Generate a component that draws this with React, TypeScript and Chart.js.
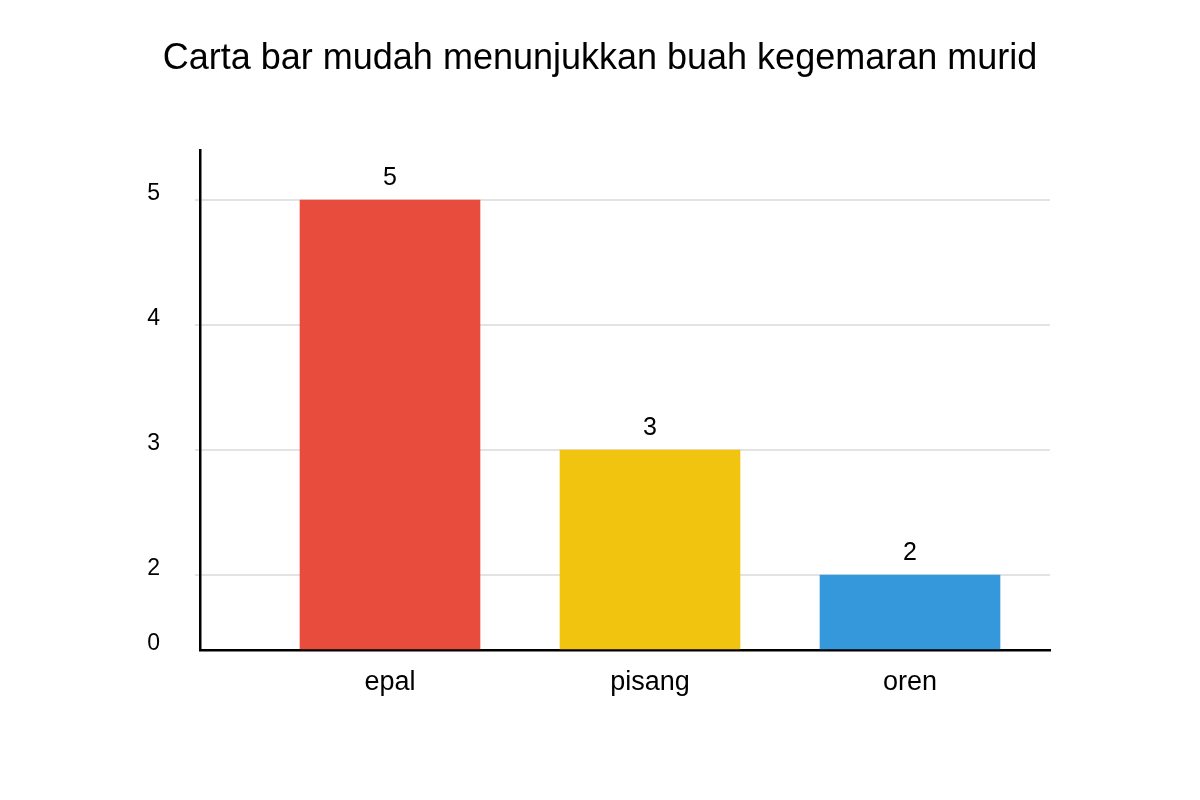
import React, { useEffect, useRef } from 'react';
import { Chart, registerables } from 'chart.js';

Chart.register(...registerables);

const categories = ['epal', 'pisang', 'oren'];
const studentCounts = [5, 3, 2];
const barColors = ['#e74c3c', '#f1c40f', '#3498db'];
const yTickValues = [2, 3, 4, 5];
const titleText = 'Carta bar mudah menunjukkan buah kegemaran murid';

// the original axis squeezes 0..2 into a short stretch, so the baseline
// sits at this value and is labelled "0"
const Y_FLOOR = 1.4;
const Y_TOP = 5.4;

const FONT = '"Liberation Sans", Arial, sans-serif';

const valueLabels = {
  id: 'valueLabels',
  afterDatasetsDraw(chart: Chart) {
    const ctx = chart.ctx;
    const meta = chart.getDatasetMeta(0);
    ctx.save();
    ctx.font = `25px ${FONT}`;
    ctx.fillStyle = '#000';
    ctx.textAlign = 'center';
    ctx.textBaseline = 'middle';
    meta.data.forEach((bar: any, i: number) => {
      ctx.fillText(String(studentCounts[i]), bar.x, bar.y - 22);
    });
    ctx.restore();
  }
};

// title centred on the whole canvas, not on the padded layout box
const pageTitle = {
  id: 'pageTitle',
  afterDraw(chart: Chart) {
    const ctx = chart.ctx;
    ctx.save();
    ctx.font = `36px ${FONT}`;
    ctx.fillStyle = '#000';
    ctx.textAlign = 'center';
    ctx.textBaseline = 'middle';
    ctx.fillText(titleText, chart.width / 2, 59);
    ctx.restore();
  }
};

const App: React.FC = () => {
  const chartRef = useRef<HTMLCanvasElement>(null);
  const chartInstance = useRef<Chart | null>(null);

  useEffect(() => {
    if (!chartRef.current) return;
    const ctx = chartRef.current.getContext('2d');
    if (!ctx) return;

    chartInstance.current = new Chart(ctx, {
      type: 'bar',
      data: {
        datasets: [{
          data: studentCounts.map((v, i) => ({ x: i, y: v })),
          backgroundColor: barColors,
          borderWidth: 0,
          barThickness: 180,
          base: Y_FLOOR
        }]
      },
      options: {
        responsive: true,
        maintainAspectRatio: false,
        animation: false,
        layout: { padding: { left: 0, right: 150, top: 150, bottom: 0 } },
        plugins: {
          legend: { display: false },
          tooltip: { enabled: false },
          title: { display: false }
        },
        scales: {
          x: {
            type: 'linear',
            offset: false,
            min: -190 / 260,
            max: 2 + 140 / 260,
            afterBuildTicks: (scale: any) => {
              scale.ticks = categories.map((_, i) => ({ value: i }));
            },
            afterFit: (scale: any) => { scale.height = 150; },
            grid: { display: false, drawTicks: false, offset: false },
            border: { display: true, color: '#000', width: 2.5 },
            ticks: {
              color: '#000',
              padding: 16,
              font: { family: FONT, size: 27 },
              callback: (value: any) => categories[value] ?? ''
            }
          },
          y: {
            type: 'linear',
            min: Y_FLOOR,
            max: Y_TOP,
            afterBuildTicks: (scale: any) => {
              scale.ticks = [Y_FLOOR, ...yTickValues].map(v => ({ value: v }));
            },
            afterFit: (scale: any) => { scale.width = 200; },
            grid: {
              color: (c: any) => (c.tick && c.tick.value === Y_FLOOR ? 'rgba(0,0,0,0)' : '#e3e3e3'),
              lineWidth: 2,
              drawTicks: true,
              tickLength: 5
            },
            border: { display: true, color: '#000', width: 2.5 },
            ticks: {
              color: '#000',
              padding: 35,
              labelOffset: -6,
              font: { family: FONT, size: 23 },
              callback: (value: any) => (value === Y_FLOOR ? '0' : String(value))
            }
          }
        }
      },
      plugins: [valueLabels, pageTitle]
    });

    return () => {
      if (chartInstance.current) {
        chartInstance.current.destroy();
        chartInstance.current = null;
      }
    };
  }, []);

  return (
    <div style={{ position: 'absolute', left: 0, top: 0, width: 1200, height: 800, background: '#fff' }}>
      <canvas ref={chartRef}></canvas>
    </div>
  );
};

export default App;
